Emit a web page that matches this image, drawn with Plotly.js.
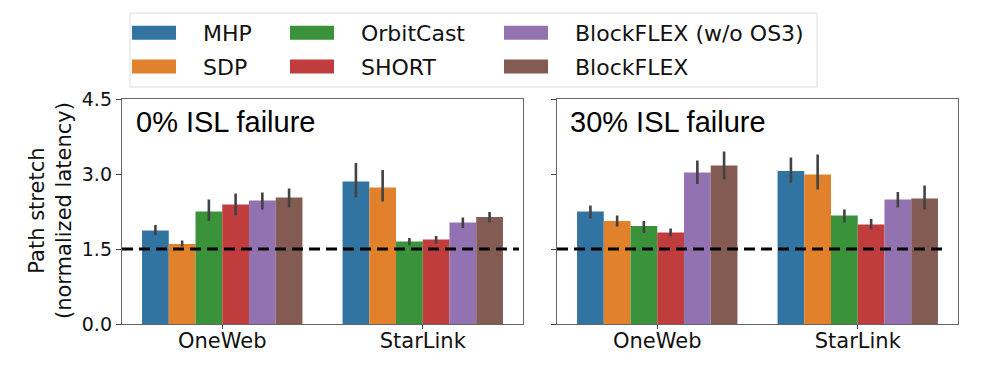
<!DOCTYPE html>
<html>
<head>
<meta charset="utf-8">
<script src="https://cdn.plot.ly/plotly-3.0.1.min.js"></script>
<style>body{margin:0;background:#fff}</style>
</head>
<body>
<div id="chart" style="width:997px;height:371px"></div>
<script>
const categories = ["OneWeb", "StarLink"];
const methods = ["MHP", "SDP", "OrbitCast", "SHORT", "BlockFLEX (w/o OS3)", "BlockFLEX"];
const colors = ["#3274a1", "#e1812c", "#3a923a", "#c03d3e", "#9372b2", "#845b53"];

// mean path stretch, one row per method: [OneWeb, StarLink]
const stretch0 = [[1.87, 2.85], [1.60, 2.73], [2.25, 1.65], [2.39, 1.69], [2.47, 2.03], [2.53, 2.14]];
const low0     = [[1.78, 2.53], [1.55, 2.45], [2.06, 1.57], [2.17, 1.61], [2.29, 1.92], [2.33, 2.03]];
const high0    = [[1.98, 3.22], [1.67, 3.08], [2.49, 1.72], [2.61, 1.76], [2.63, 2.13], [2.71, 2.24]];

const stretch30 = [[2.25, 3.06], [2.06, 2.99], [1.96, 2.17], [1.83, 1.99], [3.03, 2.49], [3.17, 2.51]];
const low30     = [[2.11, 2.83], [1.95, 2.69], [1.82, 2.03], [1.75, 1.89], [2.80, 2.33], [2.89, 2.29]];
const high30    = [[2.37, 3.33], [2.17, 3.39], [2.06, 2.29], [1.91, 2.10], [3.27, 2.64], [3.45, 2.77]];

const yTicks = [0, 1.5, 3.0, 4.5];
const baseline = 1.5;
const panelTitles = ["0% ISL failure", "30% ISL failure"];

// legend is 3 columns: MHP/SDP, OrbitCast/SHORT, BlockFLEX pair
const legendOf = ["legend", "legend", "legend2", "legend2", "legend3", "legend3"];

const traces = [];
[[stretch0, low0, high0, "x", "y"], [stretch30, low30, high30, "x2", "y2"]].forEach((panel, p) => {
    const [mean, low, high, xa, ya] = panel;
    methods.forEach((m, i) => {
        traces.push({
            type: "bar",
            x: categories,
            y: mean[i],
            name: m,
            xaxis: xa,
            yaxis: ya,
            marker: { color: colors[i], line: { width: 0 } },
            error_y: {
                type: "data",
                symmetric: false,
                array: high[i].map((h, k) => h - mean[i][k]),
                arrayminus: mean[i].map((v, k) => v - low[i][k]),
                color: "#424242",
                thickness: 2.6,
                width: 0
            },
            legend: legendOf[i],
            legendgroup: m,
            showlegend: p === 0,
            hoverinfo: "y+name"
        });
    });
});

const font = "DejaVu Sans, sans-serif";
const xAxisBase = {
    type: "category",
    showline: true, mirror: true, linecolor: "#666", linewidth: 1.2,
    ticks: "outside", ticklen: 4, tickcolor: "#444",
    tickfont: { family: font, size: 21, color: "#111" },
    ticklabelstandoff: -6,
    showgrid: false, zeroline: false
};
const yAxisBase = {
    range: [0, 4.5],
    tickvals: yTicks,
    tickformat: ".1f",
    showline: true, mirror: true, linecolor: "#666", linewidth: 1.2,
    ticks: "outside", ticklen: 5, tickcolor: "#444",
    tickfont: { family: font, size: 19, color: "#111" },
    showgrid: false, zeroline: false
};

const yDom = [1 - 324 / 371, 1 - 99 / 371];
const legendBase = {
    orientation: "v", xanchor: "left", yanchor: "top", y: 1 - 12 / 371,
    font: { family: font, size: 22, color: "#111" },
    bgcolor: "rgba(0,0,0,0)", borderwidth: 0,
    itemwidth: 74, tracegroupgap: 2,
    itemclick: false, itemdoubleclick: false
};

const layout = {
    width: 997,
    height: 371,
    margin: { l: 0, r: 0, t: 0, b: 0 },
    paper_bgcolor: "#ffffff",
    plot_bgcolor: "#ffffff",
    barmode: "group",
    bargap: 0.2,
    bargroupgap: 0,
    xaxis: Object.assign({}, xAxisBase, { domain: [122 / 997, 523 / 997], anchor: "y" }),
    yaxis: Object.assign({}, yAxisBase, { domain: yDom, anchor: "x" }),
    xaxis2: Object.assign({}, xAxisBase, { domain: [557 / 997, 958 / 997], anchor: "y2" }),
    yaxis2: Object.assign({}, yAxisBase, { domain: yDom, anchor: "x2", showticklabels: false }),
    legend: Object.assign({}, legendBase, { x: 119 / 997 }),
    legend2: Object.assign({}, legendBase, { x: 277 / 997 }),
    legend3: Object.assign({}, legendBase, { x: 491 / 997 }),
    shapes: [
        {
            type: "rect", xref: "paper", yref: "paper", layer: "below",
            x0: 130 / 997, x1: 817 / 997, y0: 1 - 87 / 371, y1: 1 - 13 / 371,
            line: { color: "#dcdcdc", width: 1 }, fillcolor: "#ffffff"
        },
        {
            type: "line", xref: "x domain", yref: "y", x0: 0, x1: 0.99, y0: baseline, y1: baseline,
            line: { color: "#000", width: 3, dash: "11px,6px" }
        },
        {
            type: "line", xref: "x2 domain", yref: "y2", x0: 0, x1: 0.975, y0: baseline, y1: baseline,
            line: { color: "#000", width: 3, dash: "11px,6px" }
        }
    ],
    annotations: [
        {
            text: panelTitles[0], xref: "x domain", yref: "y domain", x: 0.03, y: 0.9,
            xanchor: "left", yanchor: "middle", showarrow: false,
            font: { family: "Liberation Sans, Arial, sans-serif", size: 29, color: "#000" }
        },
        {
            text: panelTitles[1], xref: "x2 domain", yref: "y2 domain", x: 0.027, y: 0.9,
            xanchor: "left", yanchor: "middle", showarrow: false,
            font: { family: "Liberation Sans, Arial, sans-serif", size: 29, color: "#000" }
        },
        {
            text: "Path stretch<br>(normalized latency)", xref: "paper", yref: "paper",
            x: 50 / 997, y: 1 - 211 / 371, xanchor: "center", yanchor: "middle",
            textangle: -90, showarrow: false,
            font: { family: font, size: 21, color: "#111" }
        }
    ]
};

Plotly.newPlot("chart", traces, layout, { displayModeBar: false, staticPlot: true }).then(gd => {
    // wider legend swatches like the original
    gd.querySelectorAll("g.legendpoints path").forEach(p => p.setAttribute("d", "M15,7H-29V-7H15Z"));
});
</script>
</body>
</html>
